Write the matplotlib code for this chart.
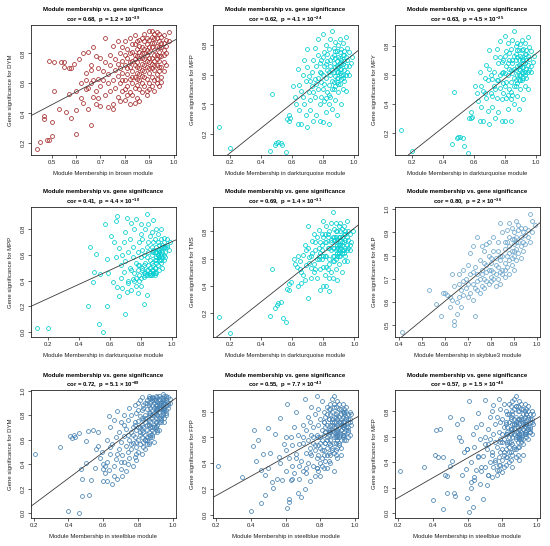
import matplotlib
matplotlib.use('Agg')
import matplotlib.pyplot as plt
import numpy as np
from matplotlib.ticker import FormatStrFormatter

plt.rcParams['font.family'] = ['Liberation Sans', 'DejaVu Sans']
plt.rcParams['mathtext.default'] = 'regular'

# ---- brown module vs DYM ----
brown_pts = [
    (0.44, 0.16), (0.45, 0.21), (0.47, 0.38), (0.47, 0.36), (0.48, 0.22), (0.49, 0.75), (0.49, 0.22), (0.50, 0.25),
    (0.50, 0.34), (0.51, 0.55), (0.51, 0.74), (0.53, 0.43), (0.54, 0.74), (0.55, 0.74), (0.55, 0.71), (0.56, 0.41),
    (0.57, 0.70), (0.57, 0.53), (0.58, 0.70), (0.58, 0.37), (0.59, 0.73), (0.60, 0.26), (0.60, 0.42), (0.60, 0.55),
    (0.61, 0.76), (0.62, 0.60), (0.62, 0.50), (0.63, 0.80), (0.63, 0.47), (0.64, 0.67), (0.64, 0.62), (0.64, 0.56),
    (0.65, 0.43), (0.65, 0.57), (0.65, 0.81), (0.66, 0.32), (0.66, 0.60), (0.66, 0.69), (0.66, 0.72), (0.67, 0.51),
    (0.67, 0.62), (0.67, 0.84), (0.68, 0.55), (0.68, 0.46), (0.68, 0.78), (0.69, 0.63), (0.69, 0.50), (0.69, 0.70),
    (0.70, 0.58), (0.70, 0.45), (0.70, 0.77), (0.71, 0.62), (0.71, 0.68), (0.72, 0.52), (0.72, 0.74), (0.72, 0.90),
    (0.73, 0.44), (0.73, 0.60), (0.73, 0.66), (0.74, 0.55), (0.74, 0.79), (0.74, 0.72), (0.75, 0.46), (0.75, 0.62),
    (0.75, 0.85), (0.75, 0.43), (0.76, 0.69), (0.76, 0.57), (0.76, 0.76), (0.77, 0.51), (0.77, 0.65), (0.77, 0.88),
    (0.77, 0.73), (0.78, 0.60), (0.78, 0.48), (0.78, 0.80), (0.78, 0.70), (0.79, 0.55), (0.79, 0.67), (0.79, 0.84),
    (0.79, 0.75), (0.80, 0.49), (0.80, 0.62), (0.80, 0.72), (0.80, 0.88), (0.81, 0.58), (0.81, 0.66), (0.81, 0.77),
    (0.81, 0.83), (0.82, 0.54), (0.82, 0.63), (0.82, 0.71), (0.82, 0.80), (0.82, 0.90), (0.83, 0.60), (0.83, 0.68),
    (0.83, 0.75), (0.83, 0.86), (0.83, 0.52), (0.84, 0.57), (0.84, 0.64), (0.84, 0.72), (0.84, 0.79), (0.84, 0.92),
    (0.85, 0.59), (0.85, 0.67), (0.85, 0.74), (0.85, 0.83), (0.85, 0.88), (0.85, 0.50), (0.86, 0.62), (0.86, 0.70),
    (0.86, 0.77), (0.86, 0.85), (0.86, 0.56), (0.87, 0.65), (0.87, 0.73), (0.87, 0.80), (0.87, 0.90), (0.87, 0.60),
    (0.88, 0.58), (0.88, 0.68), (0.88, 0.76), (0.88, 0.83), (0.88, 0.93), (0.88, 0.88), (0.89, 0.63), (0.89, 0.71),
    (0.89, 0.79), (0.89, 0.86), (0.89, 0.55), (0.90, 0.60), (0.90, 0.67), (0.90, 0.74), (0.90, 0.81), (0.90, 0.89),
    (0.90, 0.95), (0.91, 0.64), (0.91, 0.70), (0.91, 0.77), (0.91, 0.84), (0.91, 0.91), (0.91, 0.58), (0.92, 0.62),
    (0.92, 0.69), (0.92, 0.75), (0.92, 0.82), (0.92, 0.87), (0.92, 0.93), (0.93, 0.66), (0.93, 0.72), (0.93, 0.79),
    (0.93, 0.85), (0.93, 0.90), (0.93, 0.60), (0.94, 0.68), (0.94, 0.75), (0.94, 0.81), (0.94, 0.88), (0.94, 0.93),
    (0.95, 0.64), (0.95, 0.71), (0.95, 0.78), (0.95, 0.84), (0.95, 0.91), (0.96, 0.74), (0.96, 0.82), (0.96, 0.87),
    (0.96, 0.92), (0.97, 0.80), (0.97, 0.89), (0.98, 0.94), (0.96, 0.68), (0.94, 0.58), (0.92, 0.55), (0.89, 0.52),
    (0.86, 0.48), (0.84, 0.47), (0.82, 0.46), (0.80, 0.56), (0.87, 0.54), (0.90, 0.56), (0.93, 0.63), (0.95, 0.61),
    (0.97, 0.72), (0.97, 0.85), (0.98, 0.88), (0.81, 0.70), (0.83, 0.81), (0.85, 0.78), (0.86, 0.66), (0.87, 0.84),
    (0.88, 0.72), (0.89, 0.90), (0.90, 0.70), (0.91, 0.87), (0.92, 0.79), (0.93, 0.76), (0.94, 0.84), (0.95, 0.87),
    (0.91, 0.73), (0.89, 0.75), (0.87, 0.69), (0.85, 0.71), (0.83, 0.64), (0.82, 0.74), (0.84, 0.86), (0.86, 0.89),
    (0.88, 0.80), (0.90, 0.84), (0.92, 0.90), (0.94, 0.71), (0.96, 0.79), (0.93, 0.94), (0.91, 0.95), (0.89, 0.82),
    (0.87, 0.77), (0.85, 0.63), (0.88, 0.64), (0.90, 0.77), (0.92, 0.72), (0.94, 0.78), (0.86, 0.81), (0.84, 0.76),
    (0.80, 0.79), (0.79, 0.62), (0.81, 0.52),
]

# ---- darkturquoise module (same genes for MFP, MFY, MPP, TMS) ----
dt_x = [
    0.13, 0.20, 0.46, 0.47, 0.49, 0.50, 0.51, 0.53, 0.54, 0.56,
    0.57, 0.58, 0.58, 0.59, 0.61, 0.62, 0.63, 0.64, 0.64, 0.65,
    0.65, 0.66, 0.66, 0.67, 0.67, 0.68, 0.68, 0.69, 0.69, 0.70,
    0.70, 0.70, 0.71, 0.71, 0.72, 0.72, 0.73, 0.73, 0.74, 0.74,
    0.75, 0.75, 0.75, 0.76, 0.76, 0.77, 0.77, 0.77, 0.78, 0.78,
    0.78, 0.79, 0.79, 0.79, 0.80, 0.80, 0.80, 0.80, 0.81, 0.81,
    0.81, 0.82, 0.82, 0.82, 0.83, 0.83, 0.83, 0.84, 0.84, 0.84,
    0.84, 0.85, 0.85, 0.85, 0.85, 0.86, 0.86, 0.86, 0.86, 0.87,
    0.87, 0.87, 0.87, 0.88, 0.88, 0.88, 0.88, 0.88, 0.89, 0.89,
    0.89, 0.89, 0.89, 0.90, 0.90, 0.90, 0.90, 0.90, 0.91, 0.91,
    0.91, 0.91, 0.91, 0.92, 0.92, 0.92, 0.92, 0.92, 0.93, 0.93,
    0.93, 0.93, 0.93, 0.94, 0.94, 0.94, 0.94, 0.95, 0.95, 0.95,
    0.95, 0.96, 0.96, 0.96, 0.97, 0.97, 0.98, 0.99, 0.87, 0.89,
    0.91, 0.85, 0.83, 0.81, 0.79, 0.77, 0.86, 0.88, 0.90, 0.92,
    0.94, 0.93, 0.91, 0.89, 0.87, 0.84, 0.82, 0.80, 0.78, 0.76,
    0.74, 0.72, 0.86, 0.88, 0.90, 0.92, 0.95, 0.97, 0.84, 0.82,
]
gs_mfp_dt = [
    0.25, 0.11, 0.09, 0.47, 0.13, 0.14, 0.15, 0.14, 0.13, 0.08,
    0.30, 0.33, 0.29, 0.31, 0.52, 0.45, 0.40, 0.64, 0.27, 0.53,
    0.36, 0.49, 0.27, 0.60, 0.45, 0.70, 0.40, 0.56, 0.33, 0.77,
    0.65, 0.25, 0.48, 0.59, 0.43, 0.36, 0.62, 0.52, 0.29, 0.70,
    0.78, 0.45, 0.57, 0.33, 0.66, 0.50, 0.73, 0.84, 0.40, 0.62,
    0.29, 0.55, 0.70, 0.45, 0.60, 0.87, 0.28, 0.50, 0.66, 0.42,
    0.75, 0.58, 0.35, 0.80, 0.63, 0.48, 0.69, 0.53, 0.40, 0.77,
    0.27, 0.60, 0.66, 0.45, 0.84, 0.56, 0.72, 0.89, 0.37, 0.62,
    0.68, 0.50, 0.78, 0.59, 0.65, 0.43, 0.82, 0.71, 0.55, 0.62,
    0.69, 0.76, 0.33, 0.58, 0.65, 0.72, 0.80, 0.48, 0.61, 0.68,
    0.75, 0.84, 0.54, 0.57, 0.64, 0.70, 0.77, 0.40, 0.60, 0.67,
    0.73, 0.81, 0.50, 0.63, 0.69, 0.76, 0.56, 0.66, 0.72, 0.85,
    0.49, 0.62, 0.70, 0.78, 0.60, 0.75, 0.68, 0.72, 0.73, 0.66,
    0.71, 0.70, 0.74, 0.54, 0.61, 0.58, 0.63, 0.76, 0.62, 0.67,
    0.73, 0.58, 0.64, 0.58, 0.55, 0.62, 0.67, 0.72, 0.68, 0.54,
    0.48, 0.56, 0.50, 0.52, 0.54, 0.60, 0.60, 0.66, 0.46, 0.44,
]
gs_mfy_dt = [
    0.22, 0.07, 0.12, 0.48, 0.16, 0.17, 0.17, 0.16, 0.11, 0.06,
    0.30, 0.34, 0.30, 0.31, 0.52, 0.47, 0.42, 0.62, 0.28, 0.52,
    0.38, 0.49, 0.28, 0.58, 0.47, 0.67, 0.44, 0.56, 0.35, 0.77,
    0.64, 0.26, 0.47, 0.60, 0.45, 0.38, 0.62, 0.52, 0.30, 0.72,
    0.78, 0.44, 0.56, 0.34, 0.68, 0.51, 0.72, 0.83, 0.43, 0.61,
    0.28, 0.54, 0.70, 0.47, 0.61, 0.87, 0.28, 0.52, 0.66, 0.44,
    0.76, 0.60, 0.36, 0.82, 0.64, 0.50, 0.70, 0.55, 0.43, 0.78,
    0.28, 0.61, 0.68, 0.46, 0.84, 0.58, 0.73, 0.90, 0.40, 0.63,
    0.70, 0.52, 0.80, 0.60, 0.66, 0.45, 0.82, 0.72, 0.56, 0.64,
    0.70, 0.77, 0.36, 0.60, 0.66, 0.73, 0.81, 0.50, 0.62, 0.70,
    0.77, 0.84, 0.56, 0.58, 0.65, 0.71, 0.78, 0.43, 0.62, 0.68,
    0.74, 0.82, 0.52, 0.64, 0.70, 0.77, 0.58, 0.67, 0.73, 0.86,
    0.50, 0.63, 0.71, 0.79, 0.62, 0.76, 0.69, 0.73, 0.74, 0.67,
    0.72, 0.70, 0.75, 0.55, 0.62, 0.60, 0.64, 0.77, 0.63, 0.68,
    0.74, 0.60, 0.65, 0.60, 0.56, 0.63, 0.68, 0.73, 0.69, 0.56,
    0.50, 0.57, 0.52, 0.54, 0.56, 0.61, 0.62, 0.66, 0.48, 0.46,
]
gs_mpp_dt = [
    0.03, 0.03, 0.20, 0.66, 0.39, 0.47, 0.61, 0.06, 0.45, 0.00,
    0.84, 0.57, 0.20, 0.46, 0.75, 0.39, 0.70, 0.86, 0.58, 0.35,
    0.90, 0.28, 0.65, 0.52, 0.42, 0.34, 0.60, 0.70, 0.47, 0.78,
    0.14, 0.55, 0.89, 0.31, 0.62, 0.40, 0.50, 0.72, 0.33, 0.85,
    0.58, 0.41, 0.66, 0.46, 0.80, 0.54, 0.88, 0.36, 0.62, 0.48,
    0.30, 0.70, 0.52, 0.44, 0.76, 0.58, 0.84, 0.36, 0.64, 0.50,
    0.72, 0.43, 0.60, 0.22, 0.80, 0.54, 0.46, 0.66, 0.29, 0.92,
    0.58, 0.48, 0.70, 0.62, 0.84, 0.44, 0.56, 0.75, 0.50, 0.66,
    0.60, 0.44, 0.78, 0.52, 0.70, 0.48, 0.64, 0.87, 0.56, 0.44,
    0.62, 0.72, 0.50, 0.58, 0.66, 0.46, 0.80, 0.54, 0.60, 0.70,
    0.64, 0.52, 0.76, 0.58, 0.62, 0.48, 0.68, 0.56, 0.60, 0.72,
    0.54, 0.64, 0.80, 0.58, 0.66, 0.50, 0.62, 0.70, 0.56, 0.60,
    0.73, 0.62, 0.66, 0.58, 0.72, 0.68, 0.64, 0.70, 0.48, 0.46,
    0.60, 0.52, 0.44, 0.48, 0.40, 0.42, 0.46, 0.62, 0.56, 0.64,
    0.68, 0.56, 0.60, 0.50, 0.54, 0.44, 0.46, 0.42, 0.52, 0.40,
    0.48, 0.38, 0.44, 0.46, 0.62, 0.58, 0.66, 0.66, 0.48, 0.52,
]
gs_tms_dt = [
    0.17, 0.05, 0.18, 0.52, 0.24, 0.26, 0.27, 0.28, 0.16, 0.13,
    0.38, 0.41, 0.37, 0.43, 0.60, 0.56, 0.54, 0.62, 0.40, 0.58,
    0.52, 0.50, 0.42, 0.63, 0.48, 0.70, 0.44, 0.66, 0.55, 0.84,
    0.31, 0.68, 0.57, 0.61, 0.46, 0.53, 0.73, 0.64, 0.50, 0.78,
    0.66, 0.52, 0.72, 0.46, 0.76, 0.60, 0.81, 0.68, 0.52, 0.64,
    0.37, 0.70, 0.60, 0.78, 0.62, 0.88, 0.40, 0.54, 0.72, 0.48,
    0.78, 0.62, 0.40, 0.84, 0.68, 0.52, 0.76, 0.60, 0.46, 0.80,
    0.36, 0.66, 0.74, 0.50, 0.86, 0.62, 0.76, 0.94, 0.46, 0.68,
    0.74, 0.58, 0.82, 0.66, 0.72, 0.52, 0.86, 0.76, 0.62, 0.68,
    0.74, 0.80, 0.44, 0.64, 0.70, 0.76, 0.84, 0.56, 0.68, 0.74,
    0.80, 0.86, 0.62, 0.64, 0.70, 0.76, 0.82, 0.50, 0.66, 0.72,
    0.78, 0.84, 0.58, 0.68, 0.74, 0.80, 0.62, 0.70, 0.76, 0.88,
    0.58, 0.68, 0.74, 0.80, 0.66, 0.78, 0.72, 0.80, 0.76, 0.70,
    0.76, 0.72, 0.78, 0.62, 0.66, 0.62, 0.68, 0.80, 0.66, 0.72,
    0.78, 0.64, 0.70, 0.64, 0.62, 0.68, 0.72, 0.76, 0.72, 0.60,
    0.56, 0.62, 0.58, 0.60, 0.62, 0.66, 0.66, 0.70, 0.56, 0.54,
]

# ---- skyblue3 module vs MLP ----
sky_pts = [
    (0.41, 0.47), (0.53, 0.65), (0.56, 0.59), (0.58, 0.54), (0.59, 0.64), (0.60, 0.64), (0.61, 0.63), (0.62, 0.58),
    (0.62, 0.62), (0.63, 0.61), (0.63, 0.72), (0.64, 0.50), (0.64, 0.52), (0.64, 0.67), (0.65, 0.55), (0.65, 0.60),
    (0.66, 0.68), (0.66, 0.72), (0.67, 0.58), (0.67, 0.65), (0.68, 0.69), (0.68, 0.63), (0.69, 0.70), (0.69, 0.66),
    (0.70, 0.76), (0.70, 0.62), (0.71, 0.64), (0.71, 0.81), (0.71, 0.72), (0.72, 0.84), (0.72, 0.61), (0.72, 0.68),
    (0.73, 0.66), (0.73, 0.75), (0.73, 0.54), (0.74, 0.69), (0.74, 0.88), (0.74, 0.72), (0.75, 0.70), (0.75, 0.78),
    (0.76, 0.84), (0.76, 0.67), (0.76, 0.74), (0.77, 0.77), (0.77, 0.66), (0.77, 0.82), (0.78, 0.69), (0.78, 0.73),
    (0.78, 0.85), (0.79, 0.80), (0.79, 0.68), (0.79, 0.74), (0.80, 0.71), (0.80, 0.77), (0.80, 0.69), (0.81, 0.73),
    (0.81, 0.82), (0.81, 0.88), (0.82, 0.72), (0.82, 0.79), (0.82, 0.67), (0.83, 0.75), (0.83, 0.70), (0.83, 0.86),
    (0.84, 0.78), (0.84, 0.94), (0.84, 0.68), (0.84, 0.73), (0.85, 0.80), (0.85, 0.74), (0.85, 0.90), (0.86, 0.83),
    (0.86, 0.71), (0.86, 0.77), (0.87, 0.86), (0.87, 0.75), (0.87, 0.80), (0.88, 0.84), (0.88, 0.78), (0.88, 0.94),
    (0.88, 0.72), (0.89, 0.82), (0.89, 0.87), (0.89, 0.76), (0.89, 0.92), (0.90, 0.80), (0.90, 0.85), (0.90, 0.90),
    (0.90, 0.74), (0.91, 0.83), (0.91, 0.88), (0.91, 0.95), (0.91, 0.78), (0.92, 0.86), (0.92, 0.81), (0.92, 0.91),
    (0.93, 0.84), (0.93, 0.88), (0.93, 0.79), (0.94, 0.86), (0.94, 0.90), (0.95, 0.85), (0.95, 0.92), (0.96, 0.88),
    (0.97, 0.98), (0.98, 0.95), (0.98, 0.90), (0.99, 0.93), (0.76, 0.72), (0.78, 0.76), (0.80, 0.74), (0.82, 0.76),
    (0.84, 0.80), (0.86, 0.86), (0.88, 0.88), (0.90, 0.82), (0.92, 0.93), (0.70, 0.68), (0.68, 0.74), (0.66, 0.62),
    (0.75, 0.64), (0.79, 0.86), (0.81, 0.70), (0.83, 0.82), (0.85, 0.72), (0.87, 0.91), (0.89, 0.79), (0.91, 0.86),
    (0.93, 0.92), (0.95, 0.89), (0.97, 0.86), (0.94, 0.82), (0.96, 0.91), (0.77, 0.70), (0.80, 0.79), (0.74, 0.65),
    (0.72, 0.73), (0.86, 0.74), (0.88, 0.81), (0.90, 0.87),
]

# ---- steelblue module (same genes for DYM, FPP, MFP) ----
sb_x = [
    0.21, 0.35, 0.40, 0.41, 0.42, 0.43, 0.44, 0.46, 0.46, 0.47, 0.48, 0.48, 0.50, 0.50, 0.51, 0.52, 0.53, 0.54, 0.55, 0.56,
    0.57, 0.57, 0.58, 0.59, 0.60, 0.60, 0.61, 0.61, 0.62, 0.62, 0.63, 0.63, 0.64, 0.64, 0.65, 0.65, 0.66, 0.66, 0.67, 0.67,
    0.68, 0.68, 0.69, 0.69, 0.70, 0.70, 0.70, 0.71, 0.71, 0.72, 0.72, 0.72, 0.73, 0.73, 0.73, 0.74, 0.74, 0.74, 0.75, 0.75,
    0.75, 0.76, 0.76, 0.76, 0.77, 0.77, 0.77, 0.78, 0.78, 0.78, 0.78, 0.79, 0.79, 0.79, 0.79, 0.80, 0.80, 0.80, 0.80, 0.81,
    0.81, 0.81, 0.81, 0.82, 0.82, 0.82, 0.82, 0.82, 0.83, 0.83, 0.83, 0.83, 0.83, 0.84, 0.84, 0.84, 0.84, 0.84, 0.85, 0.85,
    0.85, 0.85, 0.85, 0.85, 0.86, 0.86, 0.86, 0.86, 0.86, 0.86, 0.87, 0.87, 0.87, 0.87, 0.87, 0.87, 0.88, 0.88, 0.88, 0.88,
    0.88, 0.88, 0.88, 0.89, 0.89, 0.89, 0.89, 0.89, 0.89, 0.89, 0.90, 0.90, 0.90, 0.90, 0.90, 0.90, 0.90, 0.91, 0.91, 0.91,
    0.91, 0.91, 0.91, 0.91, 0.92, 0.92, 0.92, 0.92, 0.92, 0.92, 0.92, 0.93, 0.93, 0.93, 0.93, 0.93, 0.93, 0.94, 0.94, 0.94,
    0.94, 0.94, 0.94, 0.95, 0.95, 0.95, 0.95, 0.95, 0.96, 0.96, 0.96, 0.96, 0.97, 0.97, 0.97, 0.98, 0.84, 0.86, 0.88, 0.90,
    0.91, 0.93, 0.89, 0.87, 0.85, 0.83, 0.81, 0.79, 0.77, 0.92, 0.94, 0.96, 0.90, 0.88, 0.86, 0.84, 0.82, 0.80, 0.78, 0.76,
    0.85, 0.87, 0.89, 0.91, 0.93, 0.95, 0.86, 0.88, 0.90, 0.92, 0.94, 0.96, 0.84, 0.83, 0.82, 0.81, 0.80, 0.79, 0.74, 0.72,
    0.70, 0.68, 0.66, 0.64, 0.62, 0.60, 0.95, 0.93, 0.91, 0.89, 0.87, 0.85, 0.90, 0.92, 0.94, 0.88, 0.86, 0.97, 0.96, 0.98,
]
gs_dym_sb = [
    0.48, 0.54, 0.02, 0.63, 0.61, 0.64, 0.62, 0.00, 0.65, 0.36, 0.14, 0.28, 0.59, 0.41, 0.67, 0.15, 0.27, 0.68, 0.37, 0.52,
    0.55, 0.66, 0.45, 0.50, 0.26, 0.40, 0.33, 0.38, 0.26, 0.60, 0.79, 0.35, 0.48, 0.70, 0.24, 0.56, 0.30, 0.76, 0.44, 0.62,
    0.83, 0.28, 0.52, 0.66, 0.36, 0.58, 0.74, 0.30, 0.47, 0.63, 0.80, 0.42, 0.55, 0.69, 0.34, 0.50, 0.76, 0.40, 0.60, 0.86,
    0.45, 0.66, 0.52, 0.80, 0.38, 0.70, 0.57, 0.62, 0.88, 0.46, 0.74, 0.54, 0.68, 0.82, 0.43, 0.60, 0.75, 0.90, 0.50, 0.66,
    0.79, 0.56, 0.92, 0.62, 0.72, 0.84, 0.48, 0.95, 0.66, 0.76, 0.58, 0.88, 0.70, 0.80, 0.64, 0.90, 0.52, 0.74, 0.85, 0.68,
    0.78, 0.60, 0.92, 0.72, 0.82, 0.66, 0.88, 0.76, 0.94, 0.58, 0.80, 0.70, 0.86, 0.90, 0.64, 0.74, 0.84, 0.92, 0.68, 0.78,
    0.88, 0.62, 0.95, 0.82, 0.72, 0.90, 0.76, 0.86, 0.66, 0.94, 0.84, 0.78, 0.92, 0.70, 0.88, 0.96, 0.74, 0.86, 0.80, 0.91,
    0.72, 0.95, 0.84, 0.66, 0.88, 0.78, 0.93, 0.82, 0.86, 0.74, 0.96, 0.90, 0.80, 0.85, 0.94, 0.76, 0.88, 0.92, 0.84, 0.97,
    0.80, 0.88, 0.94, 0.86, 0.92, 0.78, 0.96, 0.90, 0.84, 0.94, 0.88, 0.92, 0.90, 0.95, 0.86, 0.93, 0.60, 0.56, 0.64, 0.70,
    0.68, 0.74, 0.58, 0.62, 0.56, 0.54, 0.64, 0.58, 0.64, 0.90, 0.82, 0.80, 0.86, 0.80, 0.72, 0.78, 0.68, 0.70, 0.72, 0.56,
    0.90, 0.82, 0.92, 0.88, 0.78, 0.84, 0.96, 0.70, 0.82, 0.92, 0.90, 0.82, 0.60, 0.86, 0.78, 0.70, 0.84, 0.48, 0.64, 0.72,
    0.42, 0.48, 0.38, 0.54, 0.42, 0.36, 0.74, 0.86, 0.80, 0.70, 0.94, 0.62, 0.74, 0.68, 0.86, 0.94, 0.72, 0.88, 0.96, 0.90,
]
gs_fpp_sb = [
    0.38, 0.29, 0.03, 0.53, 0.66, 0.42, 0.58, 0.09, 0.35, 0.47, 0.31, 0.15, 0.67, 0.36, 0.48, 0.25, 0.21, 0.63, 0.28, 0.45,
    0.75, 0.40, 0.27, 0.55, 0.34, 0.50, 0.05, 0.86, 0.12, 0.44, 0.60, 0.27, 0.38, 0.54, 0.68, 0.32, 0.47, 0.80, 0.17, 0.62,
    0.28, 0.55, 0.14, 0.42, 0.70, 0.34, 0.60, 0.90, 0.20, 0.48, 0.66, 0.36, 0.58, 0.76, 0.40, 0.52, 0.26, 0.72, 0.46, 0.62,
    0.84, 0.38, 0.56, 0.68, 0.30, 0.50, 0.78, 0.44, 0.62, 0.92, 0.36, 0.54, 0.70, 0.46, 0.82, 0.60, 0.40, 0.74, 0.52, 0.66,
    0.88, 0.44, 0.58, 0.72, 0.36, 0.62, 0.80, 0.50, 0.68, 0.56, 0.76, 0.42, 0.64, 0.84, 0.52, 0.70, 0.60, 0.78, 0.48, 0.66,
    0.74, 0.56, 0.82, 0.62, 0.70, 0.46, 0.78, 0.58, 0.86, 0.66, 0.74, 0.52, 0.80, 0.62, 0.90, 0.70, 0.56, 0.76, 0.64, 0.84,
    0.60, 0.72, 0.92, 0.68, 0.56, 0.78, 0.64, 0.84, 0.72, 0.50, 0.66, 0.80, 0.58, 0.74, 0.88, 0.62, 0.70, 0.76, 0.56, 0.82,
    0.64, 0.72, 0.86, 0.60, 0.70, 0.78, 0.52, 0.66, 0.82, 0.74, 0.58, 0.80, 0.68, 0.62, 0.76, 0.86, 0.72, 0.64, 0.78, 0.58,
    0.70, 0.82, 0.62, 0.74, 0.80, 0.66, 0.58, 0.84, 0.72, 0.64, 0.78, 0.68, 0.74, 0.62, 0.80, 0.70, 0.36, 0.40, 0.34, 0.44,
    0.54, 0.60, 0.46, 0.50, 0.42, 0.56, 0.38, 0.34, 0.54, 0.66, 0.72, 0.60, 0.64, 0.48, 0.54, 0.58, 0.46, 0.30, 0.36, 0.60,
    0.64, 0.72, 0.76, 0.68, 0.62, 0.76, 0.82, 0.68, 0.60, 0.72, 0.80, 0.74, 0.46, 0.64, 0.72, 0.50, 0.56, 0.60, 0.48, 0.32,
    0.56, 0.38, 0.44, 0.28, 0.10, 0.60, 0.68, 0.70, 0.62, 0.60, 0.66, 0.74, 0.52, 0.46, 0.70, 0.86, 0.64, 0.72, 0.66, 0.78,
]
gs_mfp_sb = [
    0.33, 0.36, 0.10, 0.46, 0.65, 0.44, 0.66, 0.03, 0.44, 0.30, 0.16, 0.29, 0.76, 0.37, 0.41, 0.16, 0.13, 0.70, 0.60, 0.57,
    0.74, 0.30, 0.48, 0.35, 0.12, 0.50, 0.01, 0.88, 0.24, 0.40, 0.62, 0.05, 0.28, 0.52, 0.68, 0.34, 0.45, 0.79, 0.23, 0.58,
    0.33, 0.70, 0.11, 0.45, 0.89, 0.36, 0.60, 0.22, 0.50, 0.66, 0.30, 0.54, 0.76, 0.40, 0.58, 0.28, 0.48, 0.80, 0.36, 0.62,
    0.85, 0.42, 0.56, 0.70, 0.30, 0.52, 0.76, 0.44, 0.64, 0.90, 0.38, 0.56, 0.72, 0.48, 0.82, 0.62, 0.42, 0.74, 0.50, 0.68,
    0.86, 0.46, 0.58, 0.72, 0.38, 0.62, 0.80, 0.50, 0.68, 0.56, 0.78, 0.44, 0.64, 0.86, 0.52, 0.72, 0.60, 0.78, 0.48, 0.66,
    0.76, 0.56, 0.84, 0.62, 0.70, 0.46, 0.78, 0.60, 0.88, 0.66, 0.74, 0.52, 0.82, 0.62, 0.90, 0.70, 0.58, 0.76, 0.64, 0.84,
    0.60, 0.72, 0.92, 0.68, 0.56, 0.80, 0.64, 0.84, 0.72, 0.52, 0.66, 0.80, 0.58, 0.74, 0.88, 0.62, 0.70, 0.76, 0.56, 0.82,
    0.64, 0.74, 0.86, 0.60, 0.70, 0.78, 0.54, 0.66, 0.82, 0.74, 0.58, 0.80, 0.68, 0.62, 0.76, 0.86, 0.72, 0.64, 0.78, 0.60,
    0.70, 0.82, 0.62, 0.74, 0.80, 0.66, 0.58, 0.84, 0.72, 0.64, 0.78, 0.68, 0.74, 0.62, 0.80, 0.70, 0.40, 0.36, 0.44, 0.42,
    0.58, 0.62, 0.46, 0.50, 0.42, 0.54, 0.36, 0.38, 0.34, 0.66, 0.70, 0.64, 0.62, 0.50, 0.54, 0.56, 0.44, 0.32, 0.34, 0.40,
    0.66, 0.70, 0.74, 0.68, 0.64, 0.76, 0.80, 0.70, 0.60, 0.72, 0.78, 0.74, 0.48, 0.62, 0.70, 0.48, 0.56, 0.58, 0.46, 0.30,
    0.54, 0.36, 0.44, 0.26, 0.20, 0.50, 0.68, 0.70, 0.62, 0.60, 0.66, 0.74, 0.52, 0.46, 0.70, 0.84, 0.64, 0.72, 0.66, 0.78,
]

# panel annotations
modules = ["brown", "darkturquoise", "darkturquoise", "darkturquoise", "darkturquoise",
           "skyblue3", "steelblue", "steelblue", "steelblue"]
colors = ["#A52A2A", "#00CED1", "#00CED1", "#00CED1", "#00CED1",
          "#6CA6CD", "#4682B4", "#4682B4", "#4682B4"]
traits = ["DYM", "MFP", "MFY", "MPP", "TMS", "MLP", "DYM", "FPP", "MFP"]
cors = ["0.68", "0.62", "0.63", "0.41", "0.69", "0.80", "0.72", "0.55", "0.57"]
p_mant = ["1.2", "4.1", "4.5", "4.4", "1.4", "2", "5.1", "7.7", "1.5"]
p_exp = [-39, -24, -25, -10, -31, -36, -89, -43, -46]
# regression line (intercept, slope)
fit_int = [0.030, -0.093, -0.106, 0.149, -0.081, 0.117, -0.142, -0.001, -0.035]
fit_slope = [0.854, 0.830, 0.849, 0.552, 0.906, 0.813, 1.064, 0.749, 0.780]

brown_x = [p[0] for p in brown_pts]
brown_y = [p[1] for p in brown_pts]
sky_x = [p[0] for p in sky_pts]
sky_y = [p[1] for p in sky_pts]
xs = [brown_x, dt_x, dt_x, dt_x, dt_x, sky_x, sb_x, sb_x, sb_x]
ys = [brown_y, gs_mfp_dt, gs_mfy_dt, gs_mpp_dt, gs_tms_dt, sky_y, gs_dym_sb, gs_fpp_sb, gs_mfp_sb]

xlims = [(0.415, 1.01), (0.092, 1.028), (0.092, 1.028), (0.092, 1.028), (0.092, 1.023),
         (0.381, 1.014), (0.185, 1.017), (0.181, 1.019), (0.181, 1.019)]
ylims = [(0.122, 0.989), (0.061, 0.932), (0.045, 0.943), (-0.039, 0.972), (0.023, 0.98),
         (0.45, 1.009), (-0.041, 1.005), (-0.026, 0.969), (-0.04, 0.969)]
xticks = [np.arange(0.5, 1.01, 0.1)] + [np.arange(0.2, 1.01, 0.2)] * 4 + \
         [np.arange(0.4, 1.01, 0.1)] + [np.arange(0.2, 1.01, 0.2)] * 3
yticks = [np.arange(0.2, 0.81, 0.2), np.arange(0.2, 0.81, 0.2), np.arange(0.2, 0.81, 0.2),
          np.arange(0.0, 0.81, 0.2), np.arange(0.2, 0.81, 0.2), np.arange(0.5, 1.01, 0.1),
          np.arange(0.0, 1.01, 0.2), np.arange(0.0, 0.81, 0.2), np.arange(0.0, 0.81, 0.2)]

W, H = 550, 546
fig = plt.figure(figsize=(W / 100, H / 100), dpi=100)
col_lr = [(31, 176), (213, 358), (395, 540)]
row_tb = [(25, 155), (207, 337), (390, 518)]

FS = 4.3
for i in range(9):
    r, c = divmod(i, 3)
    l, rt = col_lr[c]
    t, b = row_tb[r]
    ax = fig.add_axes([l / W, 1 - b / H, (rt - l) / W, (b - t) / H])
    ax.plot(xs[i], ys[i], linestyle="", marker="o", ms=2.8, mfc="none",
            mec=colors[i], mew=0.55)
    xl = np.array(xlims[i])
    ax.plot(xl, fit_int[i] + fit_slope[i] * xl, color="#3a3a3a", lw=0.6)
    ax.set_xlim(*xlims[i])
    ax.set_ylim(*ylims[i])
    ax.set_xticks(xticks[i])
    ax.set_yticks(yticks[i])
    ax.xaxis.set_major_formatter(FormatStrFormatter("%.1f"))
    ax.yaxis.set_major_formatter(FormatStrFormatter("%.1f"))
    ax.tick_params(direction="out", length=2.2, width=0.5, labelsize=FS,
                   colors="#222222", pad=1.2)
    ax.tick_params(axis="y", pad=1.5)
    for lab in ax.get_yticklabels():
        lab.set_rotation(90)
        lab.set_va("center")
    for s in ax.spines.values():
        s.set_linewidth(0.6)
        s.set_color("#222222")
    ax.annotate("Module membership vs. gene significance", xy=(0.5, 1),
                xycoords="axes fraction", xytext=(0, 10.8), textcoords="offset points",
                ha="center", va="center", fontsize=FS, fontweight="bold")
    ax.annotate("cor = %s,  p = %s $\\times$ 10$^{%d}$" % (cors[i], p_mant[i], p_exp[i]),
                xy=(0.5, 1), xycoords="axes fraction", xytext=(0, 3.6),
                textcoords="offset points", ha="center", va="center",
                fontsize=FS, fontweight="bold")
    ax.annotate("Module Membership in %s module" % modules[i], xy=(0.5, 0),
                xycoords="axes fraction", xytext=(0, -13), textcoords="offset points",
                ha="center", va="center", fontsize=FS, color="#222222")
    ax.annotate("Gene significance for %s" % traits[i], xy=(0, 0.5),
                xycoords="axes fraction", xytext=(-14.5, 0), textcoords="offset points",
                ha="center", va="center", rotation=90, fontsize=FS, color="#222222")

fig.savefig("out.png", dpi=100)
